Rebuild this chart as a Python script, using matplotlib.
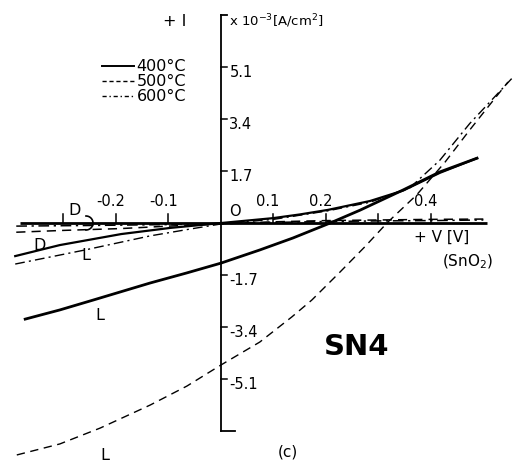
import matplotlib
matplotlib.use("Agg")
import matplotlib.pyplot as plt
import numpy as np

# I-V curves of SnO2 sample SN4 (current in 1e-3 A/cm2), dark (D) and light (L)
v_400_dark = [-0.392, -0.307, -0.19, -0.097, 0.0, 0.099, 0.150, 0.204, 0.284, 0.347, 0.417, 0.488]
i_400_dark = [-1.08, -0.72, -0.36, -0.16, 0.0, 0.16, 0.28, 0.43, 0.72, 1.06, 1.64, 2.12]

v_400_light = [-0.373, -0.307, -0.244, -0.135, -0.065, 0.0, 0.074, 0.137, 0.208,
               0.265, 0.347, 0.417, 0.488]
i_400_light = [-3.14, -2.84, -2.52, -1.96, -1.63, -1.31, -0.88, -0.49, 0.0,
               0.42, 1.08, 1.67, 2.12]

v_500_dark = [-0.39, -0.30, -0.19, -0.10, 0.0, 0.10, 0.20, 0.30, 0.40, 0.50]
i_500_dark = [-0.30, -0.24, -0.18, -0.10, -0.03, 0.04, 0.08, 0.10, 0.12, 0.13]

v_500_light = [-0.389, -0.307, -0.230, -0.135, -0.065, 0.0, 0.074, 0.135, 0.173,
               0.227, 0.274, 0.318, 0.373, 0.427, 0.474, 0.512, 0.547]
i_500_light = [-7.58, -7.22, -6.70, -5.95, -5.33, -4.64, -3.89, -3.07, -2.52,
               -1.60, -0.78, 0.03, 0.92, 1.99, 3.04, 3.86, 4.61]

v_600_dark = [-0.39, -0.25, -0.10, 0.0, 0.10, 0.20, 0.30, 0.40, 0.50]
i_600_dark = [-0.10, -0.08, -0.05, -0.02, 0.02, 0.05, 0.07, 0.08, 0.10]

v_600_light = [-0.392, -0.259, -0.135, -0.06, 0.0, 0.10, 0.204, 0.284, 0.36,
               0.417, 0.474, 0.554]
i_600_light = [-1.34, -0.88, -0.42, -0.20, -0.03, 0.12, 0.40, 0.68, 1.15,
               2.05, 3.25, 4.72]

legend_labels = ["400\u00b0C", "500\u00b0C", "600\u00b0C"]
y_ticks = [5.1, 3.4, 1.7, -1.7, -3.4, -5.1]
x_ticks = [-0.3, -0.2, -0.1, 0.1, 0.2, 0.3, 0.4]
x_tick_labels = {-0.2: "-0.2", -0.1: "-0.1", 0.1: "0.1", 0.2: "0.2", 0.4: "0.4"}

W, H = 519, 462
fig = plt.figure(figsize=(W / 100, H / 100), dpi=100)
ax = fig.add_axes([0, 0, 1, 1])
ax.set_xlim(-0.421, 0.568)
ax.set_ylim(-7.81, 7.29)
ax.axis("off")

ink = "black"
dash = (0, (6, 4))
dashdot = (0, (7, 3, 1.5, 3))

# hand-drawn axes
ax.plot([-0.383, 0.507], [0, 0], color=ink, lw=2.0, solid_capstyle="butt")
ax.plot([0, 0], [-6.8, 6.8], color=ink, lw=1.3)
ax.plot([0, 0.012], [6.8, 6.8], color=ink, lw=1.3)
ax.plot([0, 0.027], [-6.8, -6.8], color=ink, lw=1.3)
for yt in y_ticks:
    ax.plot([0, 0.012], [yt, yt], color=ink, lw=1.1)
for xt in x_ticks:
    ax.plot([xt, xt], [0, 0.28], color=ink, lw=1.1)

# curves
ax.plot(v_400_light, i_400_light, color=ink, lw=2.0, ls="-")
ax.plot(v_400_dark, i_400_dark, color=ink, lw=1.6, ls="-")
ax.plot(v_500_light, i_500_light, color=ink, lw=1.0, ls=dash)
ax.plot(v_500_dark, i_500_dark, color=ink, lw=1.1, ls=dash)
ax.plot(v_600_light, i_600_light, color=ink, lw=1.0, ls=dashdot)
ax.plot(v_600_dark, i_600_dark, color=ink, lw=1.1, ls=dashdot)

# legend
handles = [
    plt.Line2D([], [], color=ink, lw=1.4, ls="-"),
    plt.Line2D([], [], color=ink, lw=1.0, ls=(0, (3, 2))),
    plt.Line2D([], [], color=ink, lw=1.0, ls=(0, (3, 2, 1, 2))),
]
leg = ax.legend(handles, legend_labels, loc="upper left",
                bbox_to_anchor=(96 / W, 1 - 53 / H), frameon=False,
                fontsize=11.5, handlelength=2.0, handletextpad=0.15,
                labelspacing=0.0, borderaxespad=0)

def px(x, y):
    return x / W, 1 - y / H

tkw = dict(transform=ax.transAxes, color=ink)
ax.text(*px(175, 22), "+ I", ha="center", va="center", fontsize=11.5, **tkw)
ax.text(*px(229, 21), r"x 10$^{-3}$[A/cm$^2$]", ha="left", va="center", fontsize=9.5, **tkw)

for yt in y_ticks:
    ax.text(0.016, yt - 0.18, f"{yt:g}", ha="left", va="center", fontsize=10.5,
            color=ink)
for xt, lab in x_tick_labels.items():
    ax.text(xt - 0.01, 0.72, lab, ha="center", va="center", fontsize=10.5, color=ink)
ax.text(*px(235, 212), "O", ha="center", va="center", fontsize=10.5, **tkw)

ax.text(*px(442, 237), "+ V [V]", ha="center", va="center", fontsize=11, **tkw)
ax.text(*px(468, 262), r"(SnO$_2$)", ha="center", va="center", fontsize=11, **tkw)
ax.text(*px(357, 347), "SN4", ha="center", va="center", fontsize=21,
        fontweight="bold", **tkw)
ax.text(*px(288, 452), "(c)", ha="center", va="center", fontsize=11, **tkw)

for (x, y) in [(100, 316), (86, 255), (105, 455)]:
    ax.text(*px(x, y), "L", ha="center", va="center", fontsize=11.5, **tkw)
for (x, y) in [(40, 245), (75, 210)]:
    ax.text(*px(x, y), "D", ha="center", va="center", fontsize=11.5, **tkw)

# hook from the upper D label down to the curves along the axis
t = np.linspace(-np.pi / 2, np.pi / 2, 30)
hx = 86 + 7 * np.cos(t)
hy = 223 + 7 * np.sin(t)
ax.plot(hx / W, 1 - hy / H, color=ink, lw=1.2, transform=ax.transAxes)

fig.savefig("out.png", dpi=100, facecolor="white")
